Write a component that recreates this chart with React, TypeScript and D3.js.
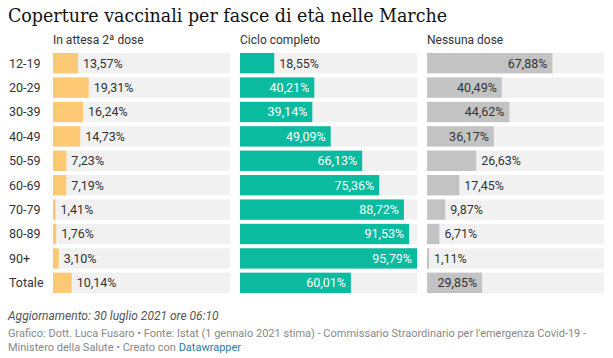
import React from "react";
import * as d3 from "d3";

const ageGroups = ["12-19", "20-29", "30-39", "40-49", "50-59", "60-69", "70-79", "80-89", "90+", "Totale"];
const attesaSeconda = [13.57, 19.31, 16.24, 14.73, 7.23, 7.19, 1.41, 1.76, 3.1, 10.14];
const cicloCompleto = [18.55, 40.21, 39.14, 49.09, 66.13, 75.36, 88.72, 91.53, 95.79, 60.01];
const nessunaDose = [67.88, 40.49, 44.62, 36.17, 26.63, 17.45, 9.87, 6.71, 1.11, 29.85];

const panels = [
  { title: "In attesa 2ª dose", values: attesaSeconda, color: "#fec974", insideText: "#333" },
  { title: "Ciclo completo", values: cicloCompleto, color: "#0bbba0", insideText: "#fff" },
  { title: "Nessuna dose", values: nessunaDose, color: "#c3c3c3", insideText: "#333" }
];

const W = 613;
const H = 358;
const font = "Roboto, 'Noto Sans', sans-serif";

const fmt = (v: number) => d3.format(".2f")(v).replace(".", ",") + "%";

export default function App() {
  const panelW = 177;
  const panelGap = 10;
  const left = 53;

  const y = d3.scaleBand<string>().domain(ageGroups).range([53, 53 + 24 * ageGroups.length]).paddingInner(4 / 24).paddingOuter(0);
  // all panels share one scale (max of every column)
  const maxV = d3.max(panels.flatMap(p => p.values)) as number;
  const x = d3.scaleLinear().domain([0, maxV]).range([0, panelW]);

  return (
    <svg width={W} height={H} style={{ position: "absolute", left: 0, top: 0, background: "#fff" }}>
      <text x={8} y={22} fontFamily="'DejaVu Serif', serif" fontSize={19} fill="#111" textLength={439} lengthAdjust="spacingAndGlyphs">
        Coperture vaccinali per fasce di età nelle Marche
      </text>

      {ageGroups.map(g => (
        <text key={g} x={9} y={(y(g) as number) + y.bandwidth() / 2} dy="0.35em" fontFamily={font} fontSize={12.5} fill="#333">
          {g}
        </text>
      ))}

      {panels.map((p, pi) => {
        const px = left + pi * (panelW + panelGap);
        return (
          <g key={p.title} transform={`translate(${px},0)`}>
            <text x={0} y={44} fontFamily={font} fontSize={12} fill="#333">{p.title}</text>
            {p.values.map((v, i) => {
              const g = ageGroups[i];
              const yy = y(g) as number;
              const bw = x(v);
              const inside = bw > 52;
              return (
                <g key={g}>
                  <rect x={0} y={yy} width={panelW} height={y.bandwidth()} fill="#f1f1f1" />
                  <rect x={0} y={yy} width={bw} height={y.bandwidth()} fill={p.color} />
                  <text
                    x={inside ? bw - 5 : bw + 5}
                    y={yy + y.bandwidth() / 2}
                    dy="0.35em"
                    textAnchor={inside ? "end" : "start"}
                    fontFamily={font}
                    fontSize={12.5}
                    fill={inside ? p.insideText : "#333"}
                  >
                    {fmt(v)}
                  </text>
                </g>
              );
            })}
          </g>
        );
      })}

      <text x={8} y={320} fontFamily={font} fontSize={12} fontStyle="italic" fill="#555">
        Aggiornamento: 30 luglio 2021 ore 06:10
      </text>
      <text x={8} y={337} fontFamily={font} fontSize={11} fill="#888">
        Grafico: Dott. Luca Fusaro • Fonte: Istat (1 gennaio 2021 stima) - Commissario Straordinario per l'emergenza Covid-19 -
      </text>
      <text x={8} y={351} fontFamily={font} fontSize={11} fill="#888">
        Ministero della Salute • Creato con <tspan fill="#1d81a2">Datawrapper</tspan>
      </text>
    </svg>
  );
}
